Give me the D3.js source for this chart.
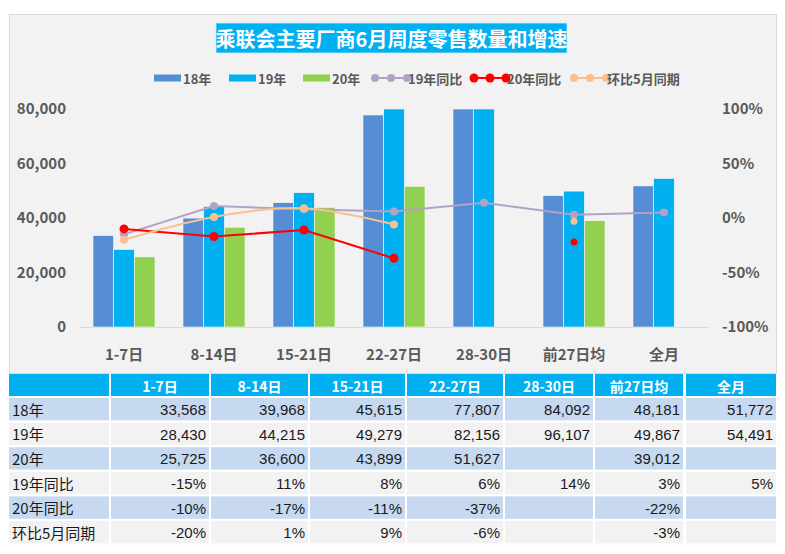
<!DOCTYPE html>
<html><head><meta charset="utf-8">
<script src="https://cdn.jsdelivr.net/npm/d3@7"></script>
<style>
html,body{margin:0;padding:0;background:#fff;}
svg{display:block;font-family:"Noto Sans CJK SC","Open Sans",sans-serif;}
</style></head>
<body><svg id="c" width="785" height="554"></svg>
<script>
const categories = ["1-7日","8-14日","15-21日","22-27日","28-30日","前27日均","全月"];
const barSeries = ["18年","19年","20年"];
const sales18 = [33568, 39968, 45615, 77807, 84092, 48181, 51772];
const sales19 = [28430, 44215, 49279, 82156, 96107, 49867, 54491];
const sales20 = [25725, 36600, 43899, 51627, null, 39012, null];
const lineSeries = ["19年同比","20年同比","环比5月同期"];
const yoy19 = [-15, 11, 8, 6, 14, 3, 5];
const yoy20 = [-10, -17, -11, -37, null, -22, null];
const mom = [-20, 1, 9, -6, null, -3, null];
const leftTicks = [0, 20000, 40000, 60000, 80000];
const rightTicks = [-100, -50, 0, 50, 100];
const title = "乘联会主要厂商6月周度零售数量和增速";

const barColors = {"18年":"#558ed5","19年":"#00b0f0","20年":"#92d050"};
const lineColors = {"19年同比":"#b3a2c7","20年同比":"#ff0000","环比5月同期":"#fac090"};
const barData = {"18年":sales18,"19年":sales19,"20年":sales20};
const lineData = {"19年同比":yoy19,"20年同比":yoy20,"环比5月同期":mom};

const svg = d3.select("#c");
const axisColor = "#595959";

// panel
svg.append("rect").attr("x",9.5).attr("y",14.5).attr("width",767).attr("height",359)
  .attr("fill","#f2f2f2").attr("stroke","#d9d9d9");

// title
svg.append("rect").attr("x",216).attr("y",23).attr("width",351).attr("height",30)
  .attr("fill","#00b0f0").attr("stroke","#cfe9f7").attr("stroke-width",0.8);
svg.append("text").attr("x",391.5).attr("y",38.5).attr("text-anchor","middle")
  .attr("dominant-baseline","central").attr("fill","#fff").attr("font-weight","bold")
  .attr("font-size",20).text(title);

// scales
const x = d3.scaleBand().domain(categories).range([79,709]).paddingInner(0).paddingOuter(0);
const x1 = d3.scaleBand().domain(barSeries).range([14,76]).padding(0);
const y = d3.scaleLinear().domain([0,80000]).range([327,109]).clamp(true);
const y2 = d3.scaleLinear().domain([-100,100]).range([327,109]);

// baseline
svg.append("line").attr("x1",79).attr("x2",709).attr("y1",y(0)+0.5).attr("y2",y(0)+0.5)
  .attr("stroke","#d9d9d9").attr("stroke-width",1);

// left axis
const la = svg.append("g").attr("transform","translate(66,0)")
  .call(d3.axisLeft(y).tickValues(leftTicks).tickSize(0).tickPadding(0).tickFormat(d3.format(",")));
la.select(".domain").remove();
la.selectAll("text").attr("font-size",15).attr("font-weight","bold").attr("fill",axisColor)
  .attr("font-family","'Noto Sans CJK SC',sans-serif");

// right axis
const ra = svg.append("g").attr("transform","translate(722,0)")
  .call(d3.axisRight(y2).tickValues(rightTicks).tickSize(0).tickPadding(0).tickFormat(d => d + "%"));
ra.select(".domain").remove();
ra.selectAll("text").attr("font-size",15).attr("font-weight","bold").attr("fill",axisColor)
  .attr("font-family","'Noto Sans CJK SC',sans-serif");

// category axis
const ca = svg.append("g").attr("transform","translate(0,345)")
  .call(d3.axisBottom(x).tickSize(0).tickPadding(0));
ca.select(".domain").remove();
ca.selectAll("text").attr("font-size",15).attr("font-weight","bold").attr("fill",axisColor)
  .attr("dominant-baseline","central").attr("dy",8)
  .attr("font-family","'Noto Sans CJK SC',sans-serif");

// bars
barSeries.forEach(s => {
  svg.append("g").selectAll("rect")
    .data(categories.map((c,i)=>({c, v: barData[s][i]})).filter(d => d.v != null))
    .join("rect")
    .attr("x", d => x(d.c) + x1(s))
    .attr("width", x1.bandwidth())
    .attr("y", d => y(d.v))
    .attr("height", d => y(0) - y(d.v))
    .attr("fill", barColors[s])
    .attr("stroke","#f7f7f7").attr("stroke-width",0.6);
});

// lines
const cx = c => x(c) + x.bandwidth()/2;
lineSeries.forEach(s => {
  const pts = categories.map((c,i)=>({c, v: lineData[s][i]}));
  const line = d3.line().defined(d => d.v != null).x(d => cx(d.c)).y(d => y2(d.v))
    .curve(s === "环比5月同期" ? d3.curveCatmullRom.alpha(0.5) : d3.curveLinear);
  svg.append("path").datum(pts).attr("d", line).attr("fill","none")
    .attr("stroke", lineColors[s]).attr("stroke-width", 2);
  svg.append("g").selectAll("circle").data(pts.filter(d => d.v != null)).join("circle")
    .attr("cx", d => cx(d.c)).attr("cy", d => y2(d.v))
    .attr("r", d => (s !== "19年同比" && d.c === "前27日均") ? 3.5 : (s === "20年同比" ? 4.5 : 4))
    .attr("fill", lineColors[s]);
});

// legend
const lg = svg.append("g").attr("font-size",13).attr("font-weight","bold").attr("fill",axisColor);
const legendBars = [{s:"18年",x:154},{s:"19年",x:229},{s:"20年",x:303}];
legendBars.forEach(d => {
  lg.append("rect").attr("x",d.x).attr("y",74.5).attr("width",27).attr("height",7).attr("fill",barColors[d.s]);
  lg.append("text").attr("x",d.x+29).attr("y",78).attr("dominant-baseline","central").text(d.s);
});
const legendLines = [{s:"19年同比",x:375},{s:"20年同比",x:474},{s:"环比5月同期",x:574}];
legendLines.forEach(d => {
  const c = lineColors[d.s];
  lg.append("line").attr("x1",d.x).attr("x2",d.x+32).attr("y1",78).attr("y2",78).attr("stroke",c).attr("stroke-width",2);
  [0,16,32].forEach(o => lg.append("circle").attr("cx",d.x+o).attr("cy",78).attr("r", d.s==="20年同比"?4.5:4).attr("fill",c));
  lg.append("text").attr("x",d.x+33).attr("y",78).attr("dominant-baseline","central").text(d.s);
});

// table
const colStart = [9,111,211,310,407,505,595,686];
const colEnd = [109,209,308,405,503,593,683,776];
const headerY = 374, headerH = 22, rowY0 = 398, rowStep = 24.6, rowH = 22.4;
const tbl = svg.append("g");
colStart.forEach((xs,j) => {
  tbl.append("rect").attr("x",xs).attr("y",headerY).attr("width",colEnd[j]-xs).attr("height",headerH).attr("fill","#00b0f0");
  if (j > 0) tbl.append("text").attr("x",(xs+colEnd[j])/2).attr("y",headerY+headerH/2+0.5)
    .attr("text-anchor","middle").attr("dominant-baseline","central")
    .attr("fill","#fff").attr("font-weight","bold").attr("font-size",14).text(categories[j-1]);
});
const fmtN = d3.format(",");
const rows = [
  {label:"18年", vals:sales18, f:fmtN},
  {label:"19年", vals:sales19, f:fmtN},
  {label:"20年", vals:sales20, f:fmtN},
  {label:"19年同比", vals:yoy19, f:v => v + "%"},
  {label:"20年同比", vals:yoy20, f:v => v + "%"},
  {label:"环比5月同期", vals:mom, f:v => v + "%"}
];
rows.forEach((r,i) => {
  const yy = rowY0 + i*rowStep;
  const fill = i % 2 === 0 ? "#c6d9f1" : "#f2f2f2";
  colStart.forEach((xs,j) => {
    tbl.append("rect").attr("x",xs).attr("y",yy).attr("width",colEnd[j]-xs).attr("height",rowH).attr("fill",fill);
  });
  tbl.append("text").attr("x",12).attr("y",yy+rowH/2).attr("dominant-baseline","central")
    .attr("font-size",15).attr("fill","#1a1a1a").text(r.label);
  r.vals.forEach((v,j) => {
    if (v == null) return;
    tbl.append("text").attr("x",colEnd[j+1]-3).attr("y",yy+rowH/2+0.5).attr("text-anchor","end")
      .attr("dominant-baseline","central").attr("font-size",15).attr("fill","#1a1a1a")
      .attr("font-family","'Liberation Sans','Noto Sans CJK SC',sans-serif").text(r.f(v));
  });
});
</script></body></html>
